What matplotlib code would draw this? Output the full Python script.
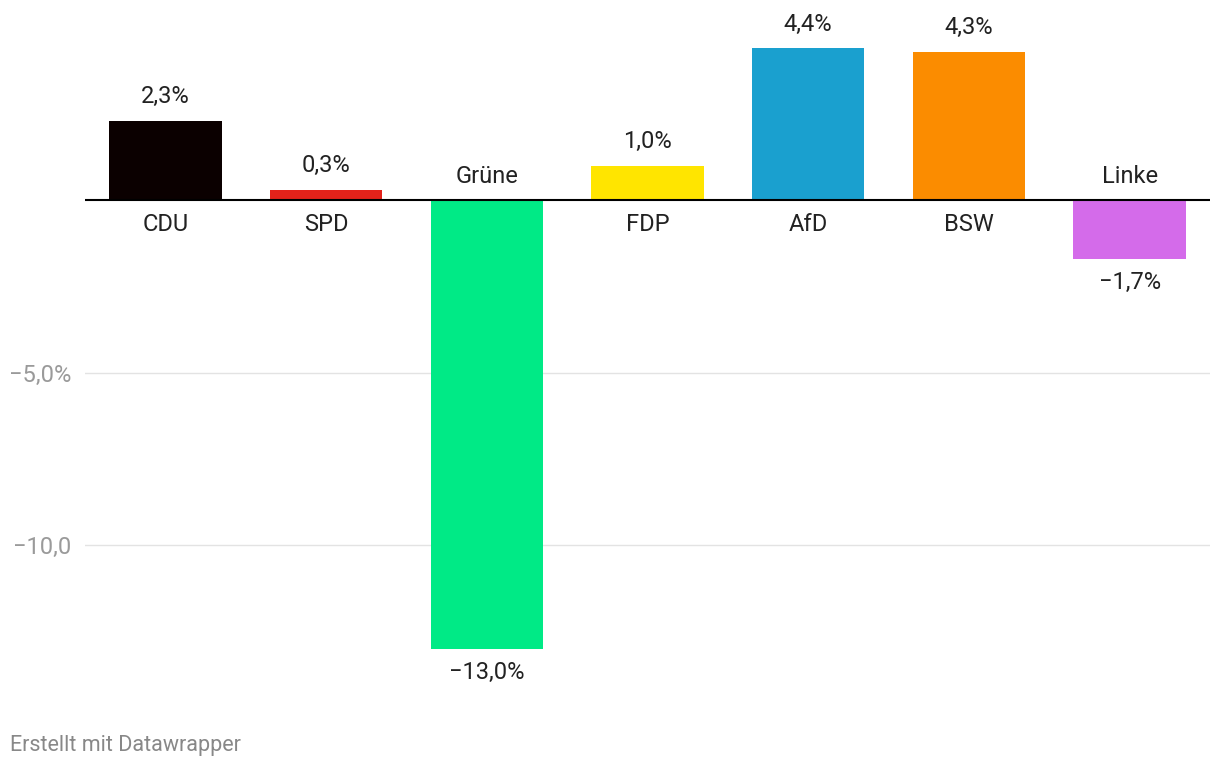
import matplotlib.pyplot as plt

parties = ['CDU', 'SPD', 'Grüne', 'FDP', 'AfD', 'BSW', 'Linke']
changes = [2.3, 0.3, -13.0, 1.0, 4.4, 4.3, -1.7]
colors = ['#0b0000', '#e3221a', '#00ea86', '#ffe500', '#1aa0cf', '#fb8c00', '#d46bea']
yticks = [-5, -10]
ytick_labels = ['\u22125,0%', '\u221210,0']

plt.rcParams['font.family'] = ['Roboto', 'DejaVu Sans']

W, H = 1220, 768
fig = plt.figure(figsize=(W / 100, H / 100), dpi=100)
ax = fig.add_axes([85 / W, 1 - 700 / H, 1125 / W, 680 / H])

px = 34.5  # pixels per unit
ax.set_ylim(-500 / px, 180 / px)
ax.set_xlim(-0.5, len(parties) - 0.5)

for y in yticks:
    ax.axhline(y, color='#e3e3e3', lw=1, zorder=0)
ax.axhline(0, color='#000000', lw=1.5, zorder=3)

x = range(len(parties))
ax.bar(x, changes, width=0.7, color=colors, zorder=2)

off = 24 / px
fs = 17
for i, (p, v) in enumerate(zip(parties, changes)):
    lab = f'{abs(v):.1f}%'.replace('.', ',')
    if v >= 0:
        ax.text(i, v + off, lab, ha='center', va='center', fontsize=fs, color='#222222')
        ax.text(i, -off, p, ha='center', va='center', fontsize=fs, color='#222222')
    else:
        ax.text(i, v - off, '\u2212' + lab, ha='center', va='center', fontsize=fs, color='#222222')
        ax.text(i, off, p, ha='center', va='center', fontsize=fs, color='#222222')

ax.set_yticks(yticks)
ax.set_yticklabels(ytick_labels, fontsize=17, color='#9a9a9a')
ax.tick_params(axis='y', length=0, pad=10)
ax.set_xticks([])
for s in ax.spines.values():
    s.set_visible(False)

fig.text(10 / W, 1 - 745 / H, 'Erstellt mit Datawrapper', fontsize=15.5,
         color='#888888', ha='left', va='center')

fig.savefig('out.png', dpi=100)
